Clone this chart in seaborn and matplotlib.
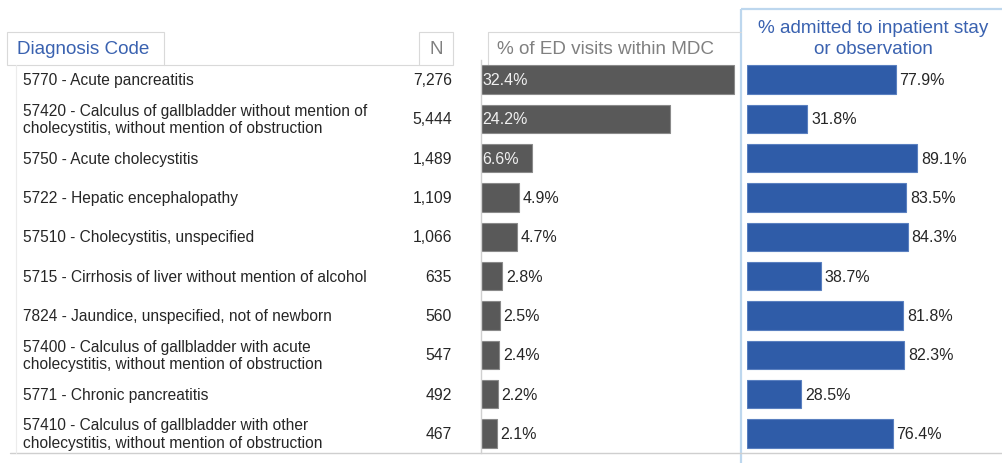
import matplotlib
matplotlib.use("Agg")
import matplotlib.pyplot as plt
import seaborn as sns
import pandas as pd
from matplotlib.patches import Rectangle

diagnoses = [
    "5770 - Acute pancreatitis",
    "57420 - Calculus of gallbladder without mention of\ncholecystitis, without mention of obstruction",
    "5750 - Acute cholecystitis",
    "5722 - Hepatic encephalopathy",
    "57510 - Cholecystitis, unspecified",
    "5715 - Cirrhosis of liver without mention of alcohol",
    "7824 - Jaundice, unspecified, not of newborn",
    "57400 - Calculus of gallbladder with acute\ncholecystitis, without mention of obstruction",
    "5771 - Chronic pancreatitis",
    "57410 - Calculus of gallbladder with other\ncholecystitis, without mention of obstruction",
]
n_visits = [7276, 5444, 1489, 1109, 1066, 635, 560, 547, 492, 467]
pct_ed = [32.4, 24.2, 6.6, 4.9, 4.7, 2.8, 2.5, 2.4, 2.2, 2.1]
pct_admit = [77.9, 31.8, 89.1, 83.5, 84.3, 38.7, 81.8, 82.3, 28.5, 76.4]

header_diag = "Diagnosis Code"
header_n = "N"
header_ed = "% of ED visits within MDC"
header_admit = "% admitted to inpatient stay\nor observation"

df = pd.DataFrame({"diag": diagnoses, "n": n_visits, "ed": pct_ed, "admit": pct_admit})

sns.set_theme(style="white")
plt.rcParams["font.family"] = ["Liberation Sans", "DejaVu Sans"]

W, H = 1002, 464
fig = plt.figure(figsize=(W / 100, H / 100), dpi=100)
fig.patch.set_facecolor("white")

# background / decoration axes in pixel coords
bg = fig.add_axes([0, 0, 1, 1], zorder=0)
bg.set_xlim(0, W)
bg.set_ylim(H, 0)
bg.axis("off")

tab_ec = "#d9d9d9"
bg.add_patch(Rectangle((7, 33), 157, 33, fc="white", ec=tab_ec, lw=0.8))
bg.add_patch(Rectangle((419, 33), 34, 33, fc="white", ec=tab_ec, lw=0.8))
bg.plot([488, 488, 741], [66, 33, 33], color=tab_ec, lw=0.8)
bg.plot([164, 419], [66, 66], color=tab_ec, lw=0.8)
bg.plot([10, W], [454, 454], color="#cfcfcf", lw=1.0)
bg.plot([16, 16], [66, 454], color="#ececec", lw=0.8)
bg.add_patch(Rectangle((741, 10), 300, 500, fill=False, ec="#bdd7ee", lw=1.6))

hfs = 13.6
bg.text(17, 50, header_diag, color="#3a62b0", fontsize=hfs, va="center", ha="left")
bg.text(436, 50, header_n, color="#808080", fontsize=hfs, va="center", ha="center")
bg.text(497, 50, header_ed, color="#808080", fontsize=hfs, va="center", ha="left")
bg.text(873, 39, header_admit, color="#3a62b0", fontsize=hfs, va="center", ha="center",
        linespacing=1.28)

top_px, bot_px = 61, 454
ax_b = (H - bot_px) / H
ax_h = (bot_px - top_px) / H
ylim = (len(diagnoses) - 0.5, -0.5)

# label axes (pixel x, category y)
lab = fig.add_axes([0, ax_b, 1, ax_h], zorder=1)
lab.set_xlim(0, W)
lab.set_ylim(*ylim)
lab.axis("off")
txt_color = "#262626"
for i, row in df.iterrows():
    lab.text(23, i, row["diag"], fontsize=11.2, color=txt_color, va="center", ha="left",
             linespacing=1.2)
    lab.text(452, i, f"{row['n']:,}", fontsize=11.3, color=txt_color, va="center", ha="right")

lfs = 11.5
# gray bars
ed_scale = 7.81  # px per %
ed_left, ed_w = 480.5, 260
ax1 = fig.add_axes([ed_left / W, ax_b, ed_w / W, ax_h], zorder=2)
sns.barplot(data=df, x="ed", y="diag", orient="h", color="#595959", saturation=1,
            width=0.725, edgecolor="#8a8a8a", linewidth=0.8, ax=ax1)
ax1.set_xlim(0, ed_w / ed_scale)
ax1.set_ylim(*ylim)
ax1.patch.set_alpha(0)
for s in ["top", "right", "bottom"]:
    ax1.spines[s].set_visible(False)
ax1.spines["left"].set_color("#d0d0d0")
ax1.spines["left"].set_linewidth(1.0)
ax1.set_xticks([]); ax1.set_yticks([])
ax1.set_xlabel(""); ax1.set_ylabel("")
for i, v in enumerate(pct_ed):
    if v > 6:
        ax1.text(0.25, i, f"{v:.1f}%", color="#f0f0f0", fontsize=lfs, va="center", ha="left")
    else:
        ax1.text(v + 0.45, i, f"{v:.1f}%", color=txt_color, fontsize=lfs, va="center", ha="left")

# blue bars
ad_scale = 1.913
ad_left, ad_w = 746.5, 255
ax2 = fig.add_axes([ad_left / W, ax_b, ad_w / W, ax_h], zorder=2)
sns.barplot(data=df, x="admit", y="diag", orient="h", color="#2f5ca8", saturation=1,
            width=0.725, edgecolor="#5a80c0", linewidth=0.8, ax=ax2)
ax2.set_xlim(0, ad_w / ad_scale)
ax2.set_ylim(*ylim)
ax2.patch.set_alpha(0)
for s in ["top", "right", "bottom", "left"]:
    ax2.spines[s].set_visible(False)
ax2.set_xticks([]); ax2.set_yticks([])
ax2.set_xlabel(""); ax2.set_ylabel("")
for i, v in enumerate(pct_admit):
    ax2.text(v + 2.0, i, f"{v:.1f}%", color=txt_color, fontsize=lfs, va="center", ha="left")

fig.savefig("out.png", dpi=100, facecolor="white")
